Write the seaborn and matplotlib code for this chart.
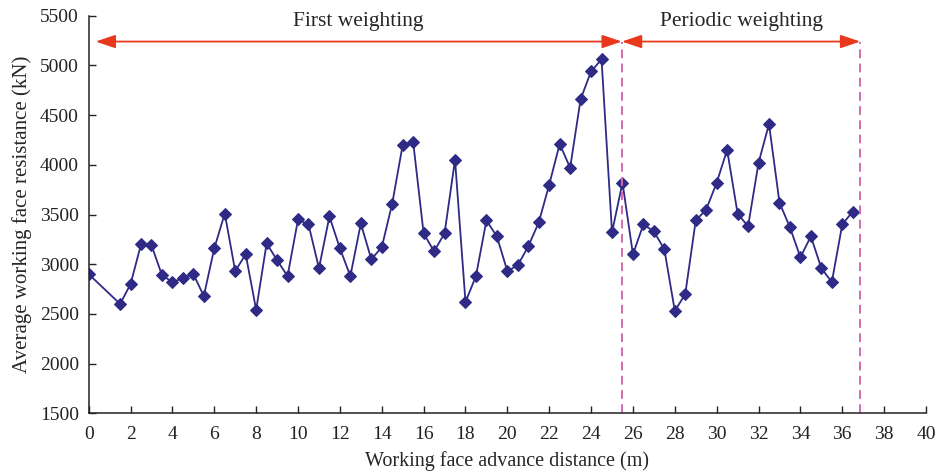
import matplotlib
matplotlib.use("Agg")
import matplotlib.pyplot as plt
import seaborn as sns
import pandas as pd

distance = [0, 1.5, 2, 2.5, 3, 3.5, 4, 4.5, 5, 5.5, 6, 6.5, 7, 7.5, 8, 8.5, 9, 9.5,
            10, 10.5, 11, 11.5, 12, 12.5, 13, 13.5, 14, 14.5, 15, 15.5, 16, 16.5,
            17, 17.5, 18, 18.5, 19, 19.5, 20, 20.5, 21, 21.5, 22, 22.5, 23, 23.5,
            24, 24.5, 25, 25.5, 26, 26.5, 27, 27.5, 28, 28.5, 29, 29.5, 30, 30.5,
            31, 31.5, 32, 32.5, 33, 33.5, 34, 34.5, 35, 35.5, 36, 36.5]
resistance = [2900, 2600, 2800, 3200, 3190, 2890, 2820, 2860, 2900, 2680, 3160, 3510,
              2930, 3100, 2540, 3210, 3040, 2880, 3450, 3400, 2960, 3480, 3160, 2880,
              3410, 3050, 3170, 3610, 4200, 4230, 3310, 3130, 3310, 4050, 2620, 2880,
              3440, 3280, 2930, 2990, 3180, 3420, 3800, 4210, 3970, 4660, 4940, 5060,
              3320, 3820, 3100, 3400, 3330, 3150, 2530, 2700, 3440, 3550, 3820, 4150,
              3510, 3380, 4020, 4410, 3620, 3370, 3070, 3280, 2960, 2820, 3400, 3530]

boundaries = [25.47, 36.86]
stage_labels = ["First weighting", "Periodic weighting"]
arrow_start = 0.33
arrow_y = 5240
label_y = 5437

df = pd.DataFrame({"distance": distance, "resistance": resistance})

sns.set_style("ticks")
plt.rcParams["font.family"] = ["Liberation Serif", "DejaVu Serif"]

fig = plt.figure(figsize=(9.36, 4.72), dpi=100)
ax = fig.add_axes([88.7 / 936, 1 - 413.3 / 472, (926 - 88.7) / 936, (413.3 - 15.7) / 472])

line_color = "#2E2A85"
sns.lineplot(data=df, x="distance", y="resistance", ax=ax, color=line_color,
             marker="D", markersize=6.5, markeredgecolor=line_color, linewidth=1.3)

dash_color = "#D46AAE"
for b in boundaries:
    ax.plot([b, b], [1500, arrow_y], linestyle=(0, (4.5, 2.8)), color=dash_color, linewidth=1.4)

red = "#E8391D"
starts = [arrow_start, boundaries[0]]
for s, e, lab in zip(starts, boundaries, stage_labels):
    ax.annotate("", xy=(e, arrow_y), xytext=(s, arrow_y),
                arrowprops=dict(arrowstyle="<|-|>,head_length=0.8,head_width=0.27",
                                color=red, lw=1.3, mutation_scale=15,
                                shrinkA=0, shrinkB=0))
    ax.text((s + e) / 2, label_y, lab, ha="center", va="center", fontsize=15.5)

ax.set_xlim(0, 40)
ax.set_ylim(1500, 5500)
ax.set_xticks(range(0, 41, 2))
ax.set_yticks(range(1500, 5501, 500))
ax.tick_params(direction="in", length=5, labelsize=14, width=1, colors="#222222")
ax.tick_params(axis="x", pad=9)
ax.tick_params(axis="y", pad=7)
ax.set_xlabel("Working face advance distance (m)", fontsize=14.5, labelpad=6)
ax.set_ylabel("Average working face resistance (kN)", fontsize=15, labelpad=6)
sns.despine(ax=ax)
for sp in ["left", "bottom"]:
    ax.spines[sp].set_linewidth(1.1)
    ax.spines[sp].set_color("#222222")

fig.savefig("out.png", dpi=100)
